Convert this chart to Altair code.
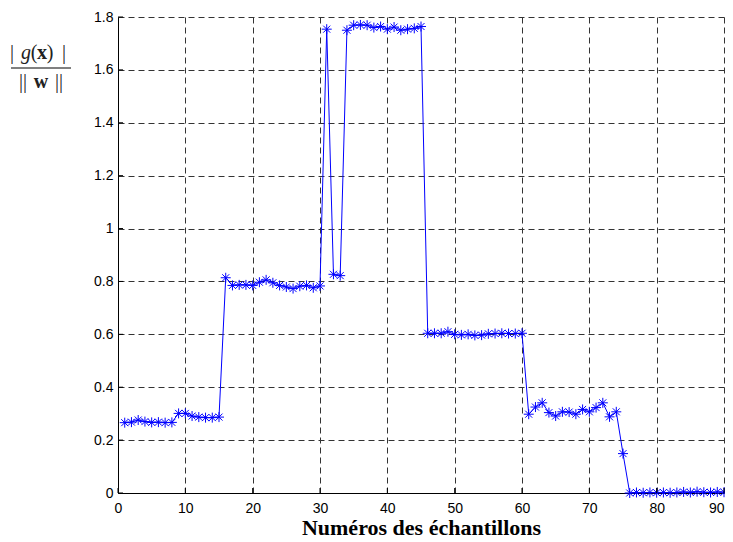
import altair as alt
import pandas as pd

samples = list(range(1, 91))
values = [
    0.266, 0.268, 0.276, 0.270, 0.267, 0.268, 0.266, 0.267, 0.301, 0.301,
    0.291, 0.287, 0.285, 0.285, 0.287, 0.814, 0.785, 0.787, 0.787, 0.785,
    0.797, 0.806, 0.795, 0.785, 0.779, 0.773, 0.782, 0.785, 0.776, 0.783,
    1.754, 0.827, 0.822, 1.750, 1.769, 1.770, 1.769, 1.760, 1.764, 1.754,
    1.762, 1.750, 1.754, 1.757, 1.764, 0.604, 0.604, 0.604, 0.610, 0.600,
    0.598, 0.600, 0.596, 0.597, 0.602, 0.603, 0.604, 0.603, 0.603, 0.604,
    0.298, 0.325, 0.341, 0.304, 0.291, 0.307, 0.306, 0.298, 0.316, 0.307,
    0.323, 0.341, 0.288, 0.307, 0.149, 0.000, 0.002, 0.001, 0.002, 0.001,
    0.002, 0.001, 0.002, 0.004, 0.002, 0.005, 0.003, 0.002, 0.004, 0.003,
]
x_ticks = [0, 10, 20, 30, 40, 50, 60, 70, 80, 90]
y_ticks = [0, 0.2, 0.4, 0.6, 0.8, 1.0, 1.2, 1.4, 1.6, 1.8]
x_title = "Numéros des échantillons"

df = pd.DataFrame({"n": samples, "v": values})

W, H = 606, 476
xs = alt.Scale(domain=[0, 90], nice=False, zero=False)
ys = alt.Scale(domain=[0, 1.8], nice=False, zero=False)

STAR = "M-1,0L1,0M0,-1L0,1M-0.7,-0.7L0.7,0.7M-0.7,0.7L0.7,-0.7"

x_axis = alt.Axis(
    values=x_ticks, title=x_title, labelPadding=8, ticks=False,
    labelAlign={"condition": {"test": "datum.value >= 90", "value": "right"}, "value": "center"},
    titleFont="Liberation Serif", titleFontSize=22, titleFontWeight="bold",
    titleColor="black", titleBaseline="alphabetic", titleY=41)
y_axis = alt.Axis(values=y_ticks, title=None, format="~g", labelPadding=5, ticks=False)

base = alt.Chart(df)
line = base.mark_line(color="#0000ff", strokeWidth=1).encode(
    x=alt.X("n:Q", scale=xs, axis=x_axis),
    y=alt.Y("v:Q", scale=ys, axis=y_axis),
)
stars = base.mark_point(shape=STAR, filled=False, color="#0000ff",
                        strokeWidth=1, size=100, opacity=1).encode(
    x=alt.X("n:Q", scale=xs, axis=x_axis), y=alt.Y("v:Q", scale=ys, axis=y_axis))

xt = alt.Chart(pd.DataFrame({"n": x_ticks})).mark_rule(color="black", strokeWidth=1).encode(
    x=alt.X("n:Q", scale=xs, axis=x_axis), y=alt.value(H), y2=alt.value(H - 5))
yt = alt.Chart(pd.DataFrame({"v": y_ticks})).mark_rule(color="black", strokeWidth=1).encode(
    y=alt.Y("v:Q", scale=ys, axis=y_axis), x=alt.value(0), x2=alt.value(5))


def piece(txt, px, py, style="normal", weight="normal", size=20):
    return alt.Chart(pd.DataFrame({"a": [0]})).mark_text(
        text=txt, font="Liberation Serif", fontSize=size, fontStyle=style,
        fontWeight=weight, align="center", baseline="alphabetic", color="#222222"
    ).encode(x=alt.value(px), y=alt.value(py))


label_layers = [
    piece("|", -106, 42),
    piece("g", -92, 42, style="italic"),
    piece("(", -84, 42),
    piece("x", -76, 42, weight="bold"),
    piece(")", -68, 42),
    piece("|", -54, 42),
    piece("||", -95, 71),
    piece("w", -77, 71, weight="bold"),
    piece("||", -59, 71),
]
bar = alt.Chart(pd.DataFrame({"a": [0]})).mark_rule(color="black", strokeWidth=1).encode(
    x=alt.value(-107), x2=alt.value(-47), y=alt.value(51))

chart = alt.layer(line, stars, xt, yt, bar, *label_layers).properties(
    width=W, height=H,
    padding={"left": 110, "top": 9, "right": 1, "bottom": 46},
    autosize=alt.AutoSizeParams(type="none"),
).configure_view(stroke=None).configure_axis(
    domainColor="black", domainWidth=1, grid=True, gridColor="#333333",
    gridDash=[6, 4], gridWidth=1, gridOpacity=1,
    labelFont="Liberation Sans", labelFontSize=14, labelColor="black",
    labelFlush=False, labelOverlap=False, labelBound=False,
)

chart.save("out.html", embed_options={"renderer": "svg", "actions": False})
